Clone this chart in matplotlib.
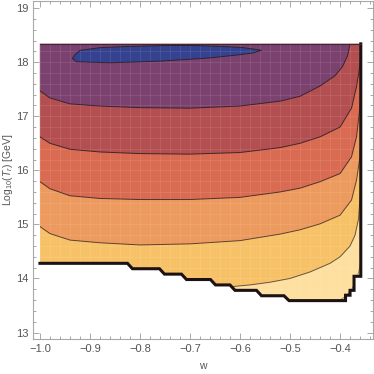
import numpy as np
import matplotlib.pyplot as plt
from matplotlib.patches import Polygon
from matplotlib.ticker import MultipleLocator

plt.rcParams['font.family'] = ['Liberation Sans', 'DejaVu Sans']
plt.rcParams['mathtext.fontset'] = 'custom'
plt.rcParams['mathtext.rm'] = 'Liberation Sans'
plt.rcParams['mathtext.it'] = 'Liberation Sans:italic'

# =========================
# allowed region
# =========================
w_min, w_max, T_max = -1.0, -0.3585, 18.34

# lower edge (staircase)
stair_w = [-1.0, -0.825, -0.815, -0.761, -0.751, -0.717, -0.707, -0.659, -0.649,
           -0.620, -0.610, -0.567, -0.557, -0.512, -0.502, -0.389, -0.389, -0.380,
           -0.380, -0.372, -0.372, -0.3585]
stair_T = [14.28, 14.28, 14.18, 14.18, 14.08, 14.08, 13.98, 13.98, 13.88,
           13.88, 13.78, 13.78, 13.68, 13.68, 13.59, 13.59, 13.69, 13.69,
           13.78, 13.78, 14.04, 14.04]

# =========================
# contour lines (w, log10 T)
# =========================
c1_w = [-1.0, -0.98, -0.94, -0.88, -0.8, -0.7, -0.6, -0.52, -0.48, -0.44, -0.41, -0.395, -0.385, -0.38]
c1_T = [17.47, 17.34, 17.23, 17.19, 17.16, 17.15, 17.19, 17.28, 17.37, 17.56, 17.75, 17.92, 18.12, 18.34]

c2_w = [-1.0, -0.98, -0.94, -0.88, -0.8, -0.7, -0.6, -0.52, -0.48, -0.44, -0.40, -0.377, -0.367, -0.36, -0.3585]
c2_T = [16.62, 16.50, 16.39, 16.34, 16.31, 16.30, 16.33, 16.42, 16.50, 16.62, 16.80, 17.15, 17.55, 17.95, 18.15]

c3_w = [-1.0, -0.98, -0.94, -0.88, -0.8, -0.7, -0.6, -0.52, -0.48, -0.44, -0.40, -0.377, -0.367, -0.36, -0.3585]
c3_T = [15.79, 15.66, 15.53, 15.48, 15.46, 15.46, 15.50, 15.60, 15.67, 15.79, 15.94, 16.25, 16.62, 17.18, 17.60]

c4_w = [-1.0, -0.98, -0.94, -0.88, -0.8, -0.7, -0.6, -0.52, -0.48, -0.44, -0.40, -0.377, -0.367, -0.36, -0.3585]
c4_T = [14.96, 14.83, 14.71, 14.66, 14.62, 14.64, 14.70, 14.82, 14.90, 15.01, 15.17, 15.45, 15.82, 16.25, 16.70]

c5_w = [-0.615, -0.58, -0.54, -0.50, -0.46, -0.42, -0.40, -0.38, -0.37, -0.363, -0.36, -0.3585]
c5_T = [13.85, 13.88, 13.93, 14.00, 14.12, 14.28, 14.40, 14.60, 14.80, 15.10, 15.50, 15.95]

c6_w = [-0.40, -0.39, -0.377, -0.367, -0.36, -0.3585]
c6_T = [13.60, 13.66, 13.79, 13.97, 14.22, 14.40]

# top island
c7_w = [-0.935, -0.93, -0.92, -0.88, -0.83, -0.75, -0.69, -0.63, -0.593, -0.57, -0.557,
        -0.575, -0.6, -0.66, -0.76, -0.86, -0.927, -0.935]
c7_T = [18.07, 18.14, 18.22, 18.27, 18.29, 18.31, 18.31, 18.29, 18.27, 18.24, 18.22,
        18.17, 18.14, 18.08, 18.02, 17.99, 18.01, 18.07]

colors = ['#f7c267', '#fddf9f', '#fde9bd', '#ed9a5e', '#d96b52', '#b34f50', '#7b4270', '#34428f']

fig = plt.figure(figsize=(3.74, 3.74), dpi=100)
ax = fig.add_axes([0.089, 0.0936, 0.9075, 0.904])

dom_w = stair_w + [w_max, w_min]
dom_T = stair_T + [T_max, T_max]
domain = Polygon(np.column_stack([dom_w, dom_T]), closed=True, transform=ax.transData)


def above(cw, cT):
    xs = [w_min - 0.05] + list(cw) + [w_max + 0.05, w_max + 0.05, w_min - 0.05]
    ys = [cT[0]] + list(cT) + [cT[-1], 20, 20]
    return xs, ys


def below(cw, cT):
    xs = list(cw) + [w_max + 0.05, w_max + 0.05, cw[0]]
    ys = list(cT) + [cT[-1], 12.5, 12.5]
    return xs, ys


fills = []
fills += ax.fill(dom_w, dom_T, color=colors[0], lw=0)
fills += ax.fill(*below(c5_w, c5_T), color=colors[1], lw=0)
fills += ax.fill(*below(c6_w, c6_T), color=colors[2], lw=0)
fills += ax.fill(*above(c4_w, c4_T), color=colors[3], lw=0)
fills += ax.fill(*above(c3_w, c3_T), color=colors[4], lw=0)
fills += ax.fill(*above(c2_w, c2_T), color=colors[5], lw=0)
fills += ax.fill(*above(c1_w, c1_T), color=colors[6], lw=0)
fills += ax.fill(c7_w, c7_T, color=colors[7], lw=0)
for p in fills:
    p.set_clip_path(domain)

for cw, cT, a in [(c1_w, c1_T, 0.85), (c2_w, c2_T, 0.85), (c3_w, c3_T, 0.8),
                  (c4_w, c4_T, 0.75), (c5_w, c5_T, 0.7), (c6_w, c6_T, 0.5),
                  (c7_w, c7_T, 0.85)]:
    ln, = ax.plot(cw, cT, color='#2b1c22', lw=0.7, alpha=a, zorder=3)
    ln.set_clip_path(domain)

# boundary of the region
ax.plot(stair_w + [w_max], stair_T + [T_max], color='#1c1214', lw=2.2,
        solid_joinstyle='miter', zorder=4)
ax.plot([w_min, w_max], [T_max, T_max], color='#3a2a36', lw=0.8, zorder=4)

# faint mesh lines
ax.grid(True, which='both', color='white', alpha=0.12, lw=0.5)
ax.set_axisbelow(False)

ax.set_xlim(-1.0133, -0.3347)
ax.set_ylim(12.88, 19.135)
ax.xaxis.set_major_locator(MultipleLocator(0.1))
ax.xaxis.set_minor_locator(MultipleLocator(0.02))
ax.yaxis.set_major_locator(MultipleLocator(1))
ax.yaxis.set_minor_locator(MultipleLocator(0.2))
ax.tick_params(which='both', direction='in', top=True, right=True, color='#9a9a9a',
               width=0.6, labelsize=8, labelcolor='#555555')
ax.tick_params(which='major', length=4, pad=3.5)
ax.tick_params(which='minor', length=2.2)
for s in ax.spines.values():
    s.set_color('#a8a8a8')
    s.set_linewidth(0.8)

ax.set_xlabel('w', fontsize=7.5, color='#555555', labelpad=5)
ax.set_ylabel(r'Log$_{10}$($T_r$) [GeV]', fontsize=7.5, color='#555555', labelpad=1)

plt.savefig('out.png', dpi=100)
